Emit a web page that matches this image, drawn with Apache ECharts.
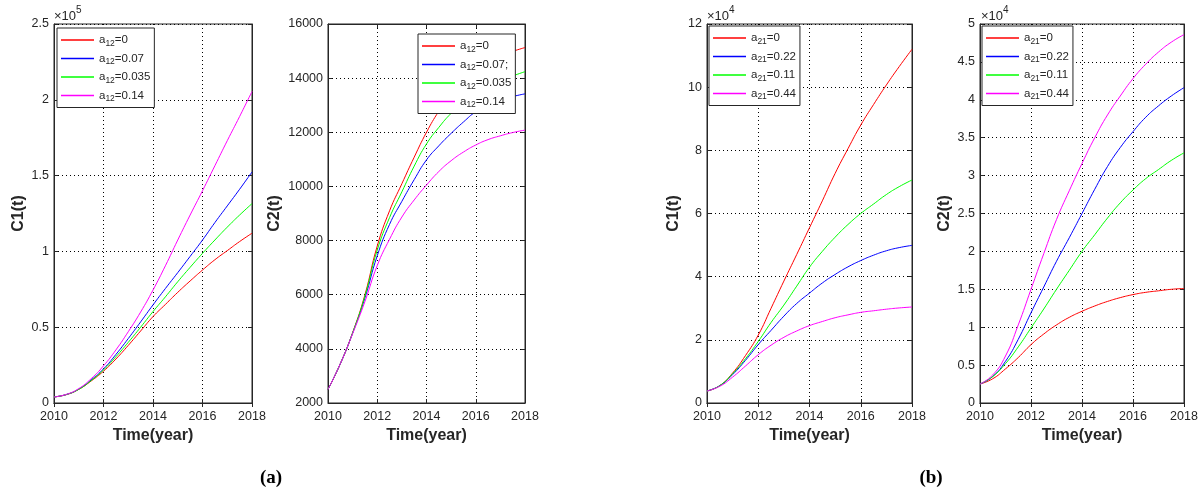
<!DOCTYPE html>
<html>
<head>
<meta charset="utf-8">
<script src="https://cdn.jsdelivr.net/npm/echarts@6/dist/echarts.min.js"></script>
<style>
  html, body { margin: 0; padding: 0; background: #fff; }
  #chart { width: 1203px; height: 492px; }
</style>
</head>
<body>
<div id="chart"></div>
<script>
// time axis, half-year steps
const years = [2010, 2010.5, 2011, 2011.5, 2012, 2012.5, 2013, 2013.5, 2014,
               2014.5, 2015, 2015.5, 2016, 2016.5, 2017, 2017.5, 2018];

// (a) left: C1(t), x10^5
const c1a_0     = [0.04, 0.055, 0.09, 0.145, 0.21, 0.29, 0.38, 0.475, 0.57, 0.65, 0.73, 0.805, 0.877, 0.945, 1.005, 1.065, 1.12];
const c1a_007   = [0.04, 0.056, 0.092, 0.152, 0.225, 0.32, 0.425, 0.535, 0.647, 0.755, 0.86, 0.967, 1.075, 1.19, 1.30, 1.41, 1.524];
const c1a_0035  = [0.04, 0.056, 0.09, 0.148, 0.218, 0.305, 0.40, 0.50, 0.603, 0.70, 0.80, 0.895, 0.987, 1.075, 1.16, 1.24, 1.315];
const c1a_014   = [0.04, 0.057, 0.095, 0.16, 0.245, 0.35, 0.47, 0.60, 0.745, 0.905, 1.075, 1.24, 1.40, 1.565, 1.73, 1.89, 2.055];

// (a) right: C2(t)
const c2a_0     = [2500, 3450, 4600, 6000, 7800, 9100, 10100, 11080, 12000, 12780, 13430, 13930, 14330, 14630, 14830, 14990, 15130];
const c2a_007   = [2500, 3450, 4580, 5880, 7440, 8600, 9450, 10250, 10980, 11500, 11960, 12380, 12760, 13000, 13190, 13320, 13420];
const c2a_0035  = [2500, 3450, 4590, 5950, 7650, 8850, 9800, 10750, 11570, 12180, 12700, 13100, 13450, 13700, 13900, 14080, 14240];
const c2a_014   = [2500, 3450, 4560, 5750, 7080, 8050, 8870, 9500, 10050, 10550, 10950, 11270, 11530, 11730, 11870, 11990, 12080];

// (b) left: C1(t), x10^4
const c1b_0     = [0.38, 0.55, 0.95, 1.5, 2.15, 3.0, 3.86, 4.7, 5.55, 6.4, 7.27, 8.05, 8.8, 9.45, 10.07, 10.65, 11.2];
const c1b_022   = [0.38, 0.55, 0.9, 1.35, 1.85, 2.3, 2.75, 3.15, 3.48, 3.8, 4.07, 4.31, 4.51, 4.68, 4.82, 4.92, 4.99];
const c1b_011   = [0.38, 0.55, 0.93, 1.4, 1.95, 2.55, 3.1, 3.7, 4.3, 4.8, 5.25, 5.65, 6.0, 6.3, 6.6, 6.85, 7.06];
const c1b_044   = [0.38, 0.53, 0.82, 1.17, 1.53, 1.83, 2.08, 2.28, 2.45, 2.58, 2.7, 2.79, 2.87, 2.92, 2.97, 3.01, 3.04];

// (b) right: C2(t), x10^4
const c2b_0     = [0.25, 0.32, 0.45, 0.6, 0.77, 0.91, 1.03, 1.13, 1.21, 1.28, 1.34, 1.39, 1.43, 1.46, 1.48, 1.5, 1.51];
const c2b_022   = [0.25, 0.35, 0.55, 0.84, 1.19, 1.53, 1.87, 2.18, 2.5, 2.82, 3.12, 3.37, 3.58, 3.77, 3.92, 4.05, 4.16];
const c2b_011   = [0.25, 0.35, 0.52, 0.74, 0.99, 1.24, 1.5, 1.75, 2.0, 2.22, 2.44, 2.64, 2.81, 2.96, 3.08, 3.2, 3.3];
const c2b_044   = [0.25, 0.37, 0.62, 1.03, 1.5, 1.97, 2.42, 2.8, 3.16, 3.5, 3.8, 4.05, 4.28, 4.47, 4.63, 4.76, 4.86];

const namesA  = ['a12=0', 'a12=0.07', 'a12=0.035', 'a12=0.14'];
const namesA2 = ['a12=0', 'a12=0.07;', 'a12=0.035', 'a12=0.14'];
const namesB  = ['a21=0', 'a21=0.22', 'a21=0.11', 'a21=0.44'];
const colors = ['#ff0000', '#0000ff', '#00ff00', '#ff00ff'];

const FONT = 'Liberation Sans, Arial, sans-serif';
const INK = '#262626';

const panels = [
  { left: 54,  width: 198, yName: 'C1(t)', nameGap: 27, yMin: 0, yMax: 2.5, yInt: 0.5,
    names: namesA, data: [c1a_0, c1a_007, c1a_0035, c1a_014], legend: { left: 57, top: 28 } },
  { left: 328, width: 197, yName: 'C2(t)', nameGap: 45, yMin: 2000, yMax: 16000, yInt: 2000,
    names: namesA2, data: [c2a_0, c2a_007, c2a_0035, c2a_014], legend: { left: 418, top: 34 } },
  { left: 707, width: 205, yName: 'C1(t)', nameGap: 25, yMin: 0, yMax: 12, yInt: 2,
    names: namesB, data: [c1b_0, c1b_022, c1b_011, c1b_044], legend: { left: 709, top: 26 } },
  { left: 980, width: 204, yName: 'C2(t)', nameGap: 27, yMin: 0, yMax: 5, yInt: 0.5,
    names: namesB, data: [c2b_0, c2b_022, c2b_011, c2b_044], legend: { left: 982, top: 26 } }
];

const chart = echarts.init(document.getElementById('chart'));

const grids = [], xAxes = [], yAxes = [], series = [], legends = [];
const tickStyle = { show: true, inside: true, length: 4, lineStyle: { color: INK, width: 1 } };
const labelStyle = { color: INK, fontSize: 12.5, fontFamily: FONT };

panels.forEach((p, i) => {
  grids.push({ left: p.left, top: 24, width: p.width, height: 379, show: true,
               borderColor: INK, borderWidth: 1, backgroundColor: '#fff' });
  // bottom + top x axis
  xAxes.push({
    gridIndex: i, type: 'value', min: 2010, max: 2018, interval: 2,
    axisLine: { show: true, lineStyle: { color: INK } },
    axisTick: tickStyle,
    axisLabel: Object.assign({ margin: 7, formatter: v => String(v) }, labelStyle),
    splitLine: { show: true, lineStyle: { color: '#000', width: 1, type: [1, 3] } },
    name: 'Time(year)', nameLocation: 'middle', nameGap: 24,
    nameTextStyle: { color: INK, fontSize: 16, fontWeight: 'bold', fontFamily: FONT }
  });
  xAxes.push({
    gridIndex: i, type: 'value', position: 'top', min: 2010, max: 2018, interval: 2,
    axisLine: { show: true, lineStyle: { color: INK } },
    axisTick: tickStyle, axisLabel: { show: false }, splitLine: { show: false }
  });
  // left + right y axis
  yAxes.push({
    gridIndex: i, type: 'value', min: p.yMin, max: p.yMax, interval: p.yInt,
    axisLine: { show: true, lineStyle: { color: INK } },
    axisTick: tickStyle,
    axisLabel: Object.assign({ margin: 5, formatter: v => String(v) }, labelStyle),
    splitLine: { show: true, lineStyle: { color: '#000', width: 1, type: [1, 3] } },
    name: p.yName, nameLocation: 'middle', nameGap: p.nameGap,
    nameTextStyle: { color: INK, fontSize: 16, fontWeight: 'bold', fontFamily: FONT }
  });
  yAxes.push({
    gridIndex: i, type: 'value', position: 'right', min: p.yMin, max: p.yMax, interval: p.yInt,
    axisLine: { show: true, lineStyle: { color: INK } },
    axisTick: tickStyle, axisLabel: { show: false }, splitLine: { show: false }
  });

  p.data.forEach((vals, k) => {
    series.push({
      type: 'line', name: p.names[k], xAxisIndex: 2 * i, yAxisIndex: 2 * i,
      data: years.map((y, j) => [y, vals[j]]),
      smooth: 0.5, symbol: 'none',
      lineStyle: { color: colors[k], width: 1 }, itemStyle: { color: colors[k] }
    });
  });

  legends.push({
    left: p.legend.left, top: p.legend.top, orient: 'vertical',
    data: p.names, selectedMode: false,
    backgroundColor: '#fff', borderColor: INK, borderWidth: 1,
    padding: [4, 4, 4, 4], icon: 'rect', itemWidth: 33, itemHeight: 1.5, itemGap: 2.5,
    formatter: name => name.replace(/^a(\d+)(.*)$/, '{n|a}{s|$1}{n|$2}'),
    textStyle: {
      color: INK, fontFamily: FONT,
      rich: {
        n: { fontSize: 11.5, color: INK, fontFamily: FONT, lineHeight: 14 },
        s: { fontSize: 8.5, color: INK, fontFamily: FONT, lineHeight: 14, padding: [7, 0, 0, 0] }
      }
    }
  });
});

function expLabel(x, pow) {
  return {
    type: 'text', left: x, top: 5,
    style: {
      text: '{n|×10}{p|' + pow + '}',
      rich: {
        n: { fontSize: 13, fill: INK, fontFamily: FONT, padding: [6, 0, 0, 0] },
        p: { fontSize: 10, fill: INK, fontFamily: FONT, padding: [0, 0, 6, 0] }
      }
    }
  };
}

const panelLabel = (cx, txt) => ({
  type: 'text', x: cx, y: 478,
  style: { text: txt, fill: '#000', font: 'bold 19px "Liberation Serif", "Times New Roman", serif',
           textAlign: 'center', textVerticalAlign: 'middle' }
});

chart.setOption({
  animation: false,
  backgroundColor: '#fff',
  grid: grids,
  xAxis: xAxes,
  yAxis: yAxes,
  legend: legends,
  series: series,
  graphic: [
    expLabel(54, 5),
    expLabel(707, 4),
    expLabel(981, 4),
    panelLabel(271, '(a)'),
    panelLabel(931, '(b)')
  ]
});
</script>
</body>
</html>
